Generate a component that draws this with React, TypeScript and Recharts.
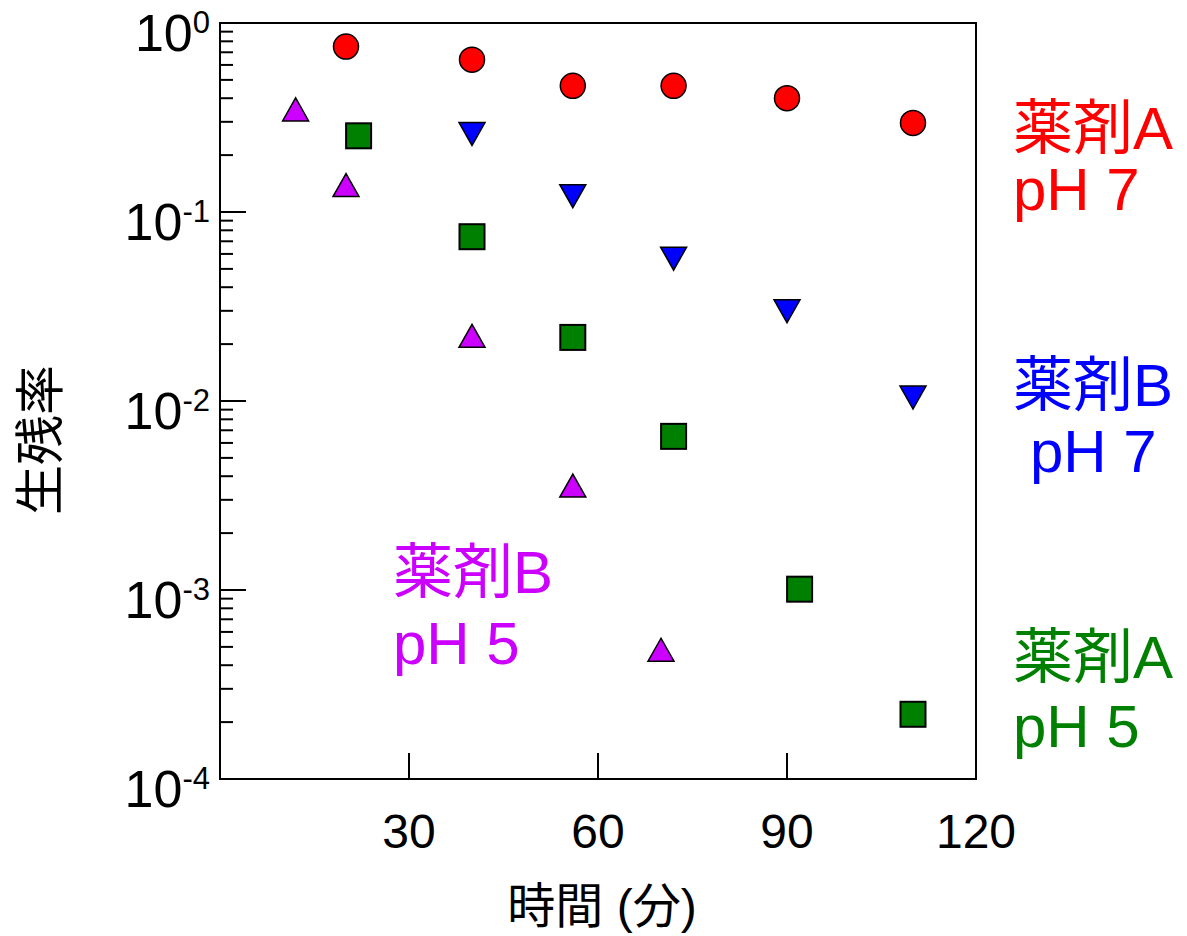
import { ScatterChart, Scatter, XAxis, YAxis, ReferenceArea } from 'recharts';

// 時間 (分) と 生残率
const drugAph7X = [20, 40, 56, 72, 90, 110];
const drugAph7Y = [0.75, 0.64, 0.465, 0.465, 0.4, 0.296];
const drugBph7X = [40, 56, 72, 90, 110];
const drugBph7Y = [0.26, 0.122, 0.057, 0.03, 0.0105];
const drugAph5X = [22, 40, 56, 72, 92, 110];
const drugAph5Y = [0.253, 0.074, 0.0217, 0.0065, 0.00101, 0.00022];
const drugBph5X = [12, 20, 40, 56, 70];
const drugBph5Y = [0.347, 0.138, 0.022, 0.00355, 0.00048];

const xTicks = [30, 60, 90, 120];
const decades = [1e-4, 1e-3, 1e-2, 1e-1, 1];
const minorSteps = [2, 3, 4, 5, 6, 7, 8, 9];

const RED = '#ff0000';
const BLUE = '#0000ff';
const GREEN = '#008000';
const PURPLE = '#cc00ff';

const FONT = '"Liberation Sans", Arial, "Noto Sans CJK JP", sans-serif';

const yTicks = [
  ...decades,
  ...decades.slice(0, -1).flatMap(d => minorSteps.map(m => m * d)),
].sort((a, b) => a - b);

const toPoints = (xs: number[], ys: number[]) => xs.map((x, i) => ({ x, y: ys[i] }));

function YTick(props: any) {
  const { x, y, payload } = props;
  const lg = Math.log10(payload.value);
  const exp = Math.round(lg);
  const major = Math.abs(lg - exp) < 1e-6;
  return (
    <g>
      <line x1={x} x2={x + (major ? 26 : 13)} y1={y} y2={y} stroke="#000" strokeWidth={2} />
      {major && (
        <text x={x - 10} y={y + 28} textAnchor="end" fontSize={52} fontFamily={FONT} fill="#000">
          10<tspan dy={-18} fontSize={31}>{exp}</tspan>
        </text>
      )}
    </g>
  );
}

function XTick(props: any) {
  const { x, y, payload } = props;
  return (
    <g>
      <line x1={x} x2={x} y1={y} y2={y - 26} stroke="#000" strokeWidth={2} />
      <text x={x} y={y + 69} textAnchor="middle" fontSize={48} fontFamily={FONT} fill="#000">
        {payload.value}
      </text>
    </g>
  );
}

const circle = (fill: string) => (p: any) => (
  <circle cx={p.cx} cy={p.cy} r={12.5} fill={fill} stroke="#000" strokeWidth={1.5} />
);
const square = (fill: string) => (p: any) => (
  <rect x={p.cx - 12.5} y={p.cy - 12.5} width={25} height={25} fill={fill} stroke="#000" strokeWidth={2} />
);
const triUp = (fill: string) => (p: any) => (
  <polygon
    points={`${p.cx},${p.cy - 12} ${p.cx - 13},${p.cy + 11} ${p.cx + 13},${p.cy + 11}`}
    fill={fill} stroke="#000" strokeWidth={1.5} strokeLinejoin="miter"
  />
);
const triDown = (fill: string) => (p: any) => (
  <polygon
    points={`${p.cx - 13},${p.cy - 11} ${p.cx + 13},${p.cy - 11} ${p.cx},${p.cy + 12}`}
    fill={fill} stroke="#000" strokeWidth={1.5} strokeLinejoin="miter"
  />
);

const W = 1171;
const H = 936;

const labels = [
  { text: '薬剤A', x: 1005, y: 149, color: RED },
  { text: 'pH 7', x: 1005, y: 210, color: RED },
  { text: '薬剤B', x: 1005, y: 406, color: BLUE },
  { text: 'pH 7', x: 1022, y: 472, color: BLUE },
  { text: '薬剤B', x: 385, y: 593, color: PURPLE },
  { text: 'pH 5', x: 385, y: 664, color: PURPLE },
  { text: '薬剤A', x: 1005, y: 678, color: GREEN },
  { text: 'pH 5', x: 1005, y: 747, color: GREEN },
];

export default function App() {
  return (
    <div style={{ position: 'relative', width: W, height: H, marginTop: -8 }}>
      <ScatterChart width={W} height={H} margin={{ top: 23, right: 203, bottom: 97, left: 112 }}>
        <XAxis
          type="number"
          dataKey="x"
          domain={[0, 120]}
          ticks={xTicks}
          interval={0}
          height={60}
          tickSize={0}
          tickMargin={0}
          axisLine={false}
          tickLine={false}
          tick={<XTick />}
        />
        <YAxis
          type="number"
          dataKey="y"
          scale="log"
          domain={[1e-4, 1]}
          allowDataOverflow
          ticks={yTicks}
          interval={0}
          width={100}
          tickSize={0}
          tickMargin={0}
          axisLine={false}
          tickLine={false}
          tick={<YTick />}
        />
        <ReferenceArea x1={0} x2={120} y1={1e-4} y2={1} fill="none" stroke="#000" strokeWidth={2} />
        <Scatter data={toPoints(drugAph7X, drugAph7Y)} shape={circle(RED)} isAnimationActive={false} />
        <Scatter data={toPoints(drugBph7X, drugBph7Y)} shape={triDown(BLUE)} isAnimationActive={false} />
        <Scatter data={toPoints(drugAph5X, drugAph5Y)} shape={square(GREEN)} isAnimationActive={false} />
        <Scatter data={toPoints(drugBph5X, drugBph5Y)} shape={triUp(PURPLE)} isAnimationActive={false} />
      </ScatterChart>
      <svg width={W} height={H} style={{ position: 'absolute', left: 0, top: 0, pointerEvents: 'none' }}>
        {labels.map((l, i) => (
          <text key={i} x={l.x} y={l.y} fontSize={60} fontFamily={FONT} fill={l.color}>
            {l.text}
          </text>
        ))}
        <text
          x={0}
          y={0}
          transform="translate(50, 440) rotate(-90)"
          textAnchor="middle"
          fontSize={50}
          fontFamily={FONT}
          fill="#000"
        >
          生残率
        </text>
        <text x={594} y={923} textAnchor="middle" fontSize={48} fontFamily={FONT} fill="#000">
          時間 (分)
        </text>
      </svg>
    </div>
  );
}
